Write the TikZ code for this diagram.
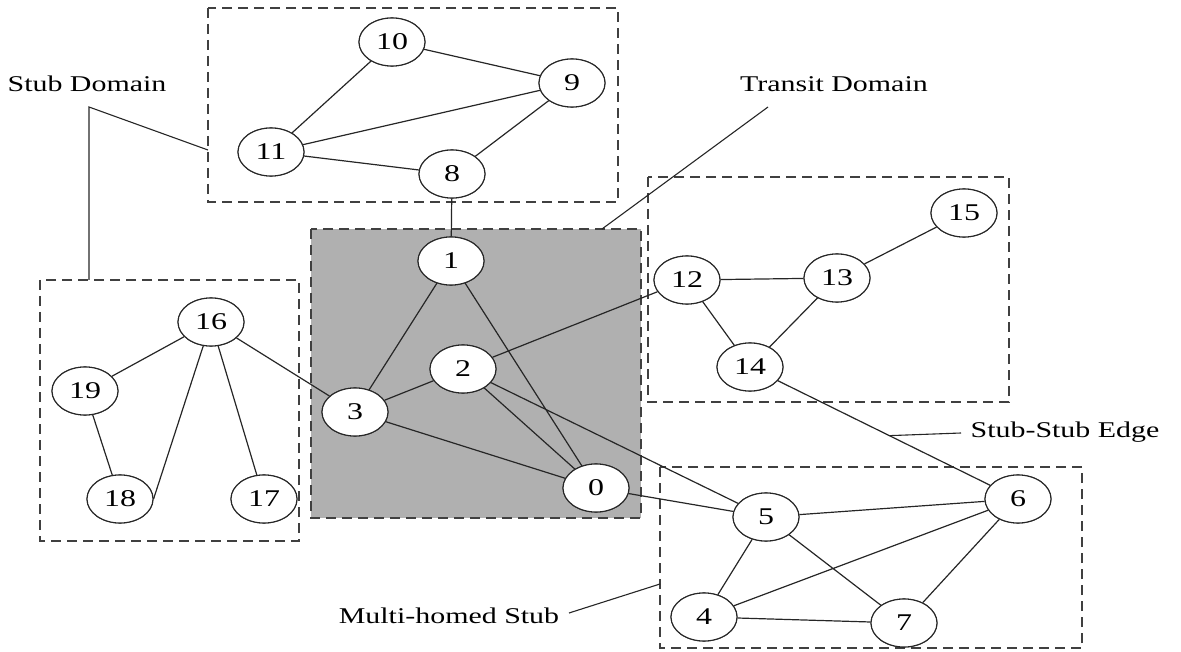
\documentclass[tikz,border=0pt]{standalone}
\usepackage{fontspec}
\setmainfont{Liberation Serif}
\usetikzlibrary{shapes.geometric,calc}
\tikzset{
  vertex/.style={ellipse, draw=black!85, line width=1.1pt, fill=white,
    minimum width=66pt, minimum height=48pt, inner sep=0pt,
    font=\fontsize{24}{24}\selectfont},
  link/.style={draw=black!85, line width=1.2pt},
  stubframe/.style={draw=black!75, line width=1.6pt, dash pattern=on 10pt off 6pt},
  transitframe/.style={stubframe, fill=black!31},
  caption/.style={anchor=base, inner sep=0pt, font=\fontsize{22.5}{22.5}\selectfont},
  leader/.style={draw=black!85, line width=1.1pt}
}
\newcommand{\wide}[1]{\scalebox{1.33}[1]{#1}}
\begin{document}
\begin{tikzpicture}[x=1pt, y=-1pt]
  \useasboundingbox (0,0) rectangle (1181,652);

  % domain frames
  \draw[transitframe] (311,229) rectangle (641,518);
  \draw[stubframe] (208,8) rectangle (618,202);
  \draw[stubframe] (40,280) rectangle (299,541);
  \draw[stubframe] (648,177) rectangle (1009,402);
  \draw[stubframe] (660,467) rectangle (1082,648);

  % routers
  \node[vertex] (n0)  at (596,488) {\wide{0}};
  \node[vertex] (n1)  at (451,261) {\wide{1}};
  \node[vertex] (n2)  at (463,369) {\wide{2}};
  \node[vertex] (n3)  at (355,412) {\wide{3}};
  \node[vertex] (n4)  at (704,617) {\wide{4}};
  \node[vertex] (n5)  at (766,517) {\wide{5}};
  \node[vertex] (n6)  at (1018,499) {\wide{6}};
  \node[vertex] (n7)  at (904,623) {\wide{7}};
  \node[vertex] (n8)  at (452,174) {\wide{8}};
  \node[vertex] (n9)  at (572,83)  {\wide{9}};
  \node[vertex] (n10) at (392,42)  {\wide{10}};
  \node[vertex] (n11) at (271,152) {\wide{11}};
  \node[vertex] (n12) at (687,280) {\wide{12}};
  \node[vertex] (n13) at (837,278) {\wide{13}};
  \node[vertex] (n14) at (750,367) {\wide{14}};
  \node[vertex] (n15) at (964,213) {\wide{15}};
  \node[vertex] (n16) at (211,322) {\wide{16}};
  \node[vertex] (n17) at (264,499) {\wide{17}};
  \node[vertex] (n18) at (120,499) {\wide{18}};
  \node[vertex] (n19) at (85,391)  {\wide{19}};

  % links
  \path[link]
    (n10) -- (n9)  (n10) -- (n11) (n11) -- (n9) (n11) -- (n8) (n9) -- (n8)
    (n8) -- (n1)   (n1) -- (n3)   (n1) -- (n0)  (n3) -- (n2)  (n3) -- (n0)
    (n2) -- (n0)   (n2) -- (n12)  (n2) -- (n5)  (n0) -- (n5)
    (n16) -- (n3)  (n16) -- (n19) (n16) -- (n18.east) (n16) -- (n17) (n19) -- (n18)
    (n12) -- (n13) (n12) -- (n14) (n13) -- (n15) (n13) -- (n14)
    (n14) -- (n6)
    (n5) -- (n6)   (n5) -- (n4)   (n5) -- (n7)  (n4) -- (n6)  (n4) -- (n7) (n6) -- (n7);

  % routers redrawn on top of the links
  \foreach \k in {0,...,19} {
    \path (n\k) node[vertex] {\wide{\k}};
  }

  % captions and their leader lines
  \node[caption] (stub) at (87,92) {\wide{Stub Domain}};
  \node[caption] (trans) at (834,92) {\wide{Transit Domain}};
  \node[caption] (sse) at (1065,437) {\wide{Stub-Stub Edge}};
  \node[caption] (mhs) at (449,623) {\wide{Multi-homed Stub}};

  \coordinate (sfork) at (89,107);
  \coordinate (stopbox) at (208,150);
  \coordinate (sleftbox) at (89,280);
  \draw[leader] (stopbox) -- (sfork) -- (sleftbox);

  \coordinate (tfoot) at (768,107);
  \coordinate (tbox) at (602,229);
  \draw[leader] (tfoot) -- (tbox);

  \coordinate (ssedge) at ($(n14)!0.52!(n6)$);
  \coordinate (ssend) at (961,433);
  \draw[leader] (ssedge) -- (ssend);

  \coordinate (mfoot) at (569,613);
  \coordinate (mbox) at (660,584);
  \draw[leader] (mfoot) -- (mbox);
\end{tikzpicture}
\end{document}
